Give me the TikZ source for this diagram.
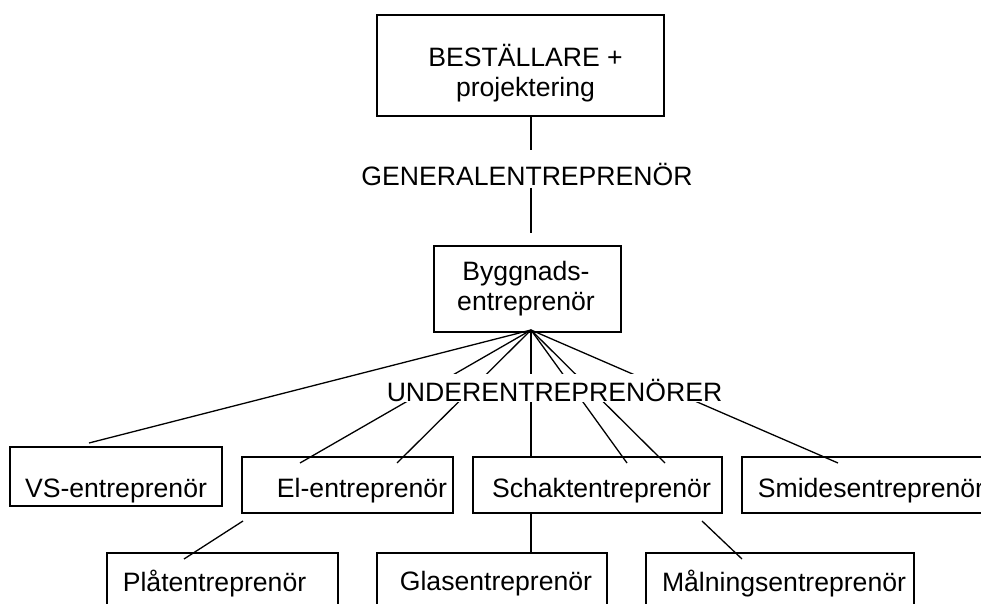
\documentclass[tikz,border=0pt]{standalone}
\usepackage{fontspec}
\setmainfont{Liberation Sans}

\begin{document}
\begin{tikzpicture}[x=0.5pt, y=-0.5pt, line width=0.65pt,
  every node/.style = {font=\fontsize{13.3}{15}\selectfont},
  box/.style = {draw, rectangle, inner sep=0pt, minimum height=28pt},
  txt/.style = {anchor=base, inner sep=0pt, align=center}]
\useasboundingbox (0,0) rectangle (981,604);
\clip (0,0) rectangle (981,604);

% boxes
\node[box, minimum width=143.5pt, minimum height=50.5pt,
  label={[txt, xshift=2.5pt, yshift=-3.75pt]center:BESTÄLLARE +\\projektering}] (best) at (520.5,65.5) {};
\node[box, minimum width=93.5pt, minimum height=43pt,
  label={[txt, xshift=-0.75pt, yshift=0pt]center:Byggnads-\\entreprenör}] (bygg) at (527.5,289) {};
\node[box, minimum width=106pt, minimum height=29.5pt,
  label={[txt, yshift=-7.25pt]center:VS-entreprenör}] (vs) at (116,476.5) {};
\node[box, minimum width=105.5pt,
  label={[txt, xshift=7.25pt, yshift=-3pt]center:El-entreprenör}] (el) at (347.5,485) {};
\node[box, minimum width=124.5pt,
  label={[txt, xshift=2pt, yshift=-3pt]center:Schaktentreprenör}] (schakt) at (597.5,485) {};
\node[box, minimum width=134pt,
  label={[txt, xshift=-2.5pt, yshift=-3pt]center:Smidesentreprenör}] (smides) at (876,485) {};
\node[box, minimum width=115.5pt, minimum height=36pt,
  label={[txt, xshift=-4pt, yshift=2.5pt]center:Plåtentreprenör}] (plat) at (222.5,589) {};
\node[box, minimum width=115pt, minimum height=36pt,
  label={[txt, xshift=2pt, yshift=2.5pt]center:Glasentreprenör}] (glas) at (492,589) {};
\node[box, minimum width=134pt, minimum height=36pt,
  label={[txt, xshift=2pt, yshift=2.5pt]center:Målningsentreprenör}] (maln) at (780,589) {};

\node[txt] (gen) at (527,186) {GENERALENTREPRENÖR};

% connector ends
\coordinate (hub) at (531,330);
\coordinate (gtop) at (531,150);
\coordinate (gbot) at (531,188);
\coordinate (gend) at (531,233);
\coordinate (vsend) at (89,443);
\coordinate (el1) at (300,463);
\coordinate (el2) at (397,463);
\coordinate (sc1) at (627,463);
\coordinate (sc2) at (665,463);
\coordinate (smend) at (838,463);
\coordinate (elout) at (243,521);
\coordinate (platin) at (184,559);
\coordinate (scout) at (702,521);
\coordinate (malnin) at (742,559);

\draw (best.south -| hub) -- (gtop);
\draw (gbot) -- (gend);

\draw (hub) -- (vsend);
\draw (hub) -- (el1);
\draw (hub) -- (el2);
\draw (hub) -- (schakt.north -| hub);
\draw (hub) -- (sc1);
\draw (hub) -- (sc2);
\draw (hub) -- (smend);

\draw (elout) -- (platin);
\draw (schakt.south -| hub) -- (glas.north -| hub);
\draw (scout) -- (malnin);

\node[txt, fill=white, inner xsep=1pt, text height=13.5pt, text depth=0.5pt] (under) at (554.5,401) {UNDERENTREPRENÖRER};

\end{tikzpicture}
\end{document}
